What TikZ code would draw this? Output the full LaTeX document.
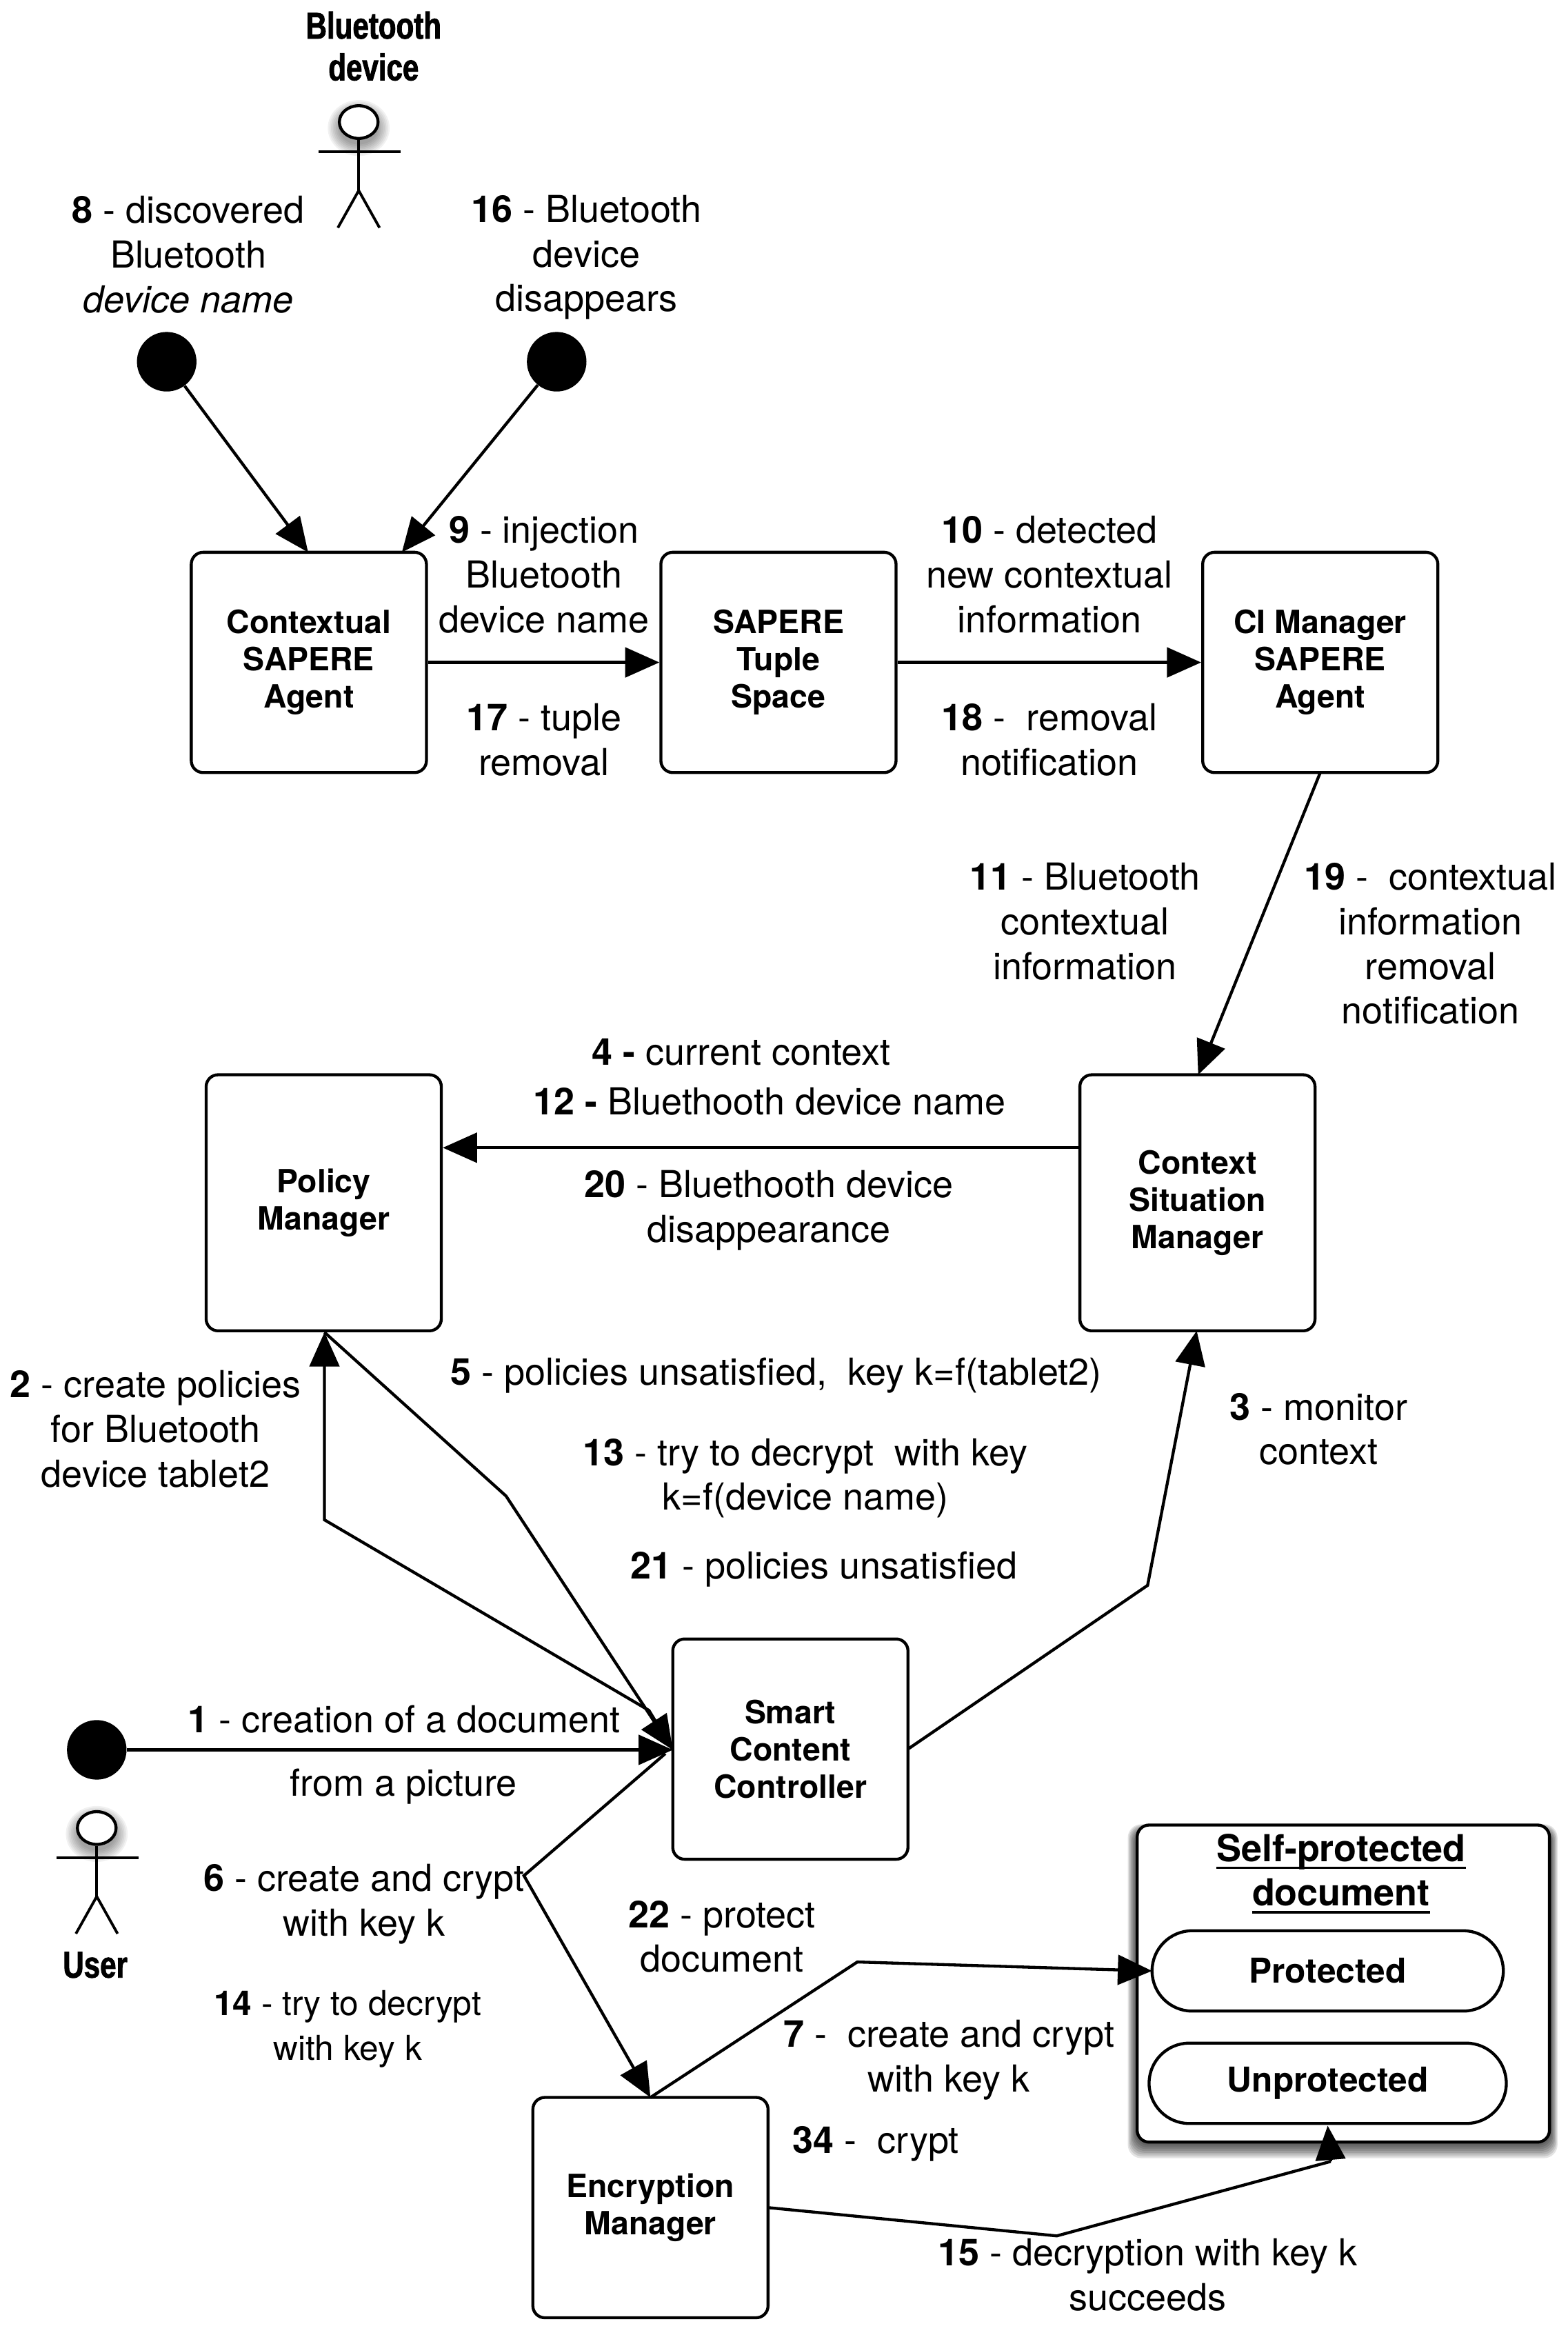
\documentclass[tikz,border=0pt]{standalone}
\usepackage{fontspec}
\setmainfont{TeX Gyre Heros}
\newfontfamily\nbfont[FakeStretch=0.78,BoldFeatures={FakeStretch=0.78,FakeBold=1.6}]{Liberation Sans}
\usetikzlibrary{arrows.meta,shapes.misc,shapes.geometric}
\newcommand{\thickul}[1]{\vtop{\hbox{\smash{#1}}\kern3.5pt\hrule height 1.8pt}}
\tikzset{
 x=1pt,y=-1pt,
 lab/.style={inner sep=0pt,align=center,font=\fontsize{25}{30}\selectfont},
 smalllab/.style={inner sep=0pt,align=center,font=\fontsize{23}{30}\selectfont},
 boxtxt/.style={font=\fontsize{21.5}{25}\bfseries\selectfont,align=center},
 box/.style={draw,line width=2pt,rounded corners=8pt,minimum width=158pt,minimum height=148pt,inner sep=0pt,boxtxt},
 tallbox/.style={box,minimum height=172pt},
 statebox/.style={draw,line width=2pt,rounded rectangle,inner sep=0pt,font=\fontsize{23}{28}\bfseries\selectfont},
 dotn/.style={circle,fill=black,minimum size=40pt,inner sep=0pt},
 conn/.style={line width=2pt,-{Triangle[length=23pt,width=20pt]}},
 plain/.style={line width=2pt},
 limb/.style={line width=1.8pt},
 actortxt/.style={inner sep=0pt,align=center,font=\nbfont\fontsize{25}{28}\bfseries\selectfont},
}
\newcommand{\actorfig}[3]{% name, cx, head cy
 \foreach \i in {1,...,8}{\fill[black,opacity=0.055] (#2,#3+4) ellipse ({12+\i*1.1} and {10+\i*1.1});}
 \node[draw,fill=white,line width=2pt,ellipse,minimum width=26pt,minimum height=22pt,inner sep=0pt] (#1head) at (#2,#3) {};
 \coordinate (#1hip) at (#2,#3+46);
 \coordinate (#1la) at (#2-27,#3+20);
 \coordinate (#1ra) at (#2+28,#3+20);
 \coordinate (#1ll) at (#2-14,#3+71);
 \coordinate (#1rl) at (#2+14,#3+71);
 \draw[limb] (#1head) -- (#1hip);
 \draw[limb] (#1la) -- (#1ra);
 \draw[limb] (#1ll) -- (#1hip) -- (#1rl);
}
\begin{document}
\begin{tikzpicture}
\useasboundingbox (0,0) rectangle (1053,1568.6);
% boxes
\node[box] (ctx) at (207.5,445) {Contextual\\SAPERE\\Agent};
\node[box] (tup) at (523,445) {SAPERE\\Tuple\\Space};
\node[box] (cim) at (887,445) {CI Manager\\SAPERE\\Agent};
\node[tallbox] (pol) at (217.5,808) {Policy\\Manager};
\node[tallbox] (csm) at (804.5,808) {Context\\Situation\\Manager};
\node[box] (scc) at (531,1175) {Smart\\Content\\Controller};
\node[box] (enc) at (437,1483) {Encryption\\Manager};
% self-protected document
\foreach \i in {1,...,9}{\fill[black,opacity=0.11,rounded corners=9pt] (764-\i*0.7,1230-\i*0.5) rectangle (1041+\i*0.6,1439+\i*1.2);}
\node[draw,fill=white,line width=2pt,rounded corners=8pt,minimum width=277pt,minimum height=213pt,inner sep=0pt] (doc) at (902.5,1332.5) {};
\node[inner sep=0pt,align=center,font=\fontsize{25}{30}\bfseries\selectfont] (doct) at (901,1268) {\thickul{Self-protected}\\\thickul{document}};
\node[statebox,minimum width=236pt,minimum height=54pt] (prot) at (892,1324) {Protected};
\node[statebox,minimum width=240pt,minimum height=54pt] (unprot) at (892,1399.5) {Unprotected};
% actors
\actorfig{bt}{241}{82}
\actorfig{us}{65}{1228}
\node[actortxt] (btl) at (251,31) {Bluetooth\\device};
\node[actortxt] (usl) at (64,1320) {User};
% start dots
\node[dotn] (d8) at (112,243) {};
\node[dotn] (d16) at (374,243) {};
\node[dotn] (d1) at (65,1175.5) {};
% connector anchors
\coordinate (ctxA) at (207,371);
\coordinate (ctxB) at (270,371);
\coordinate (csmT) at (805,722);
\coordinate (cimB) at (887,519);
\coordinate (polB) at (218,895);
\coordinate (sccW) at (452,1175.5);
\coordinate (sccS) at (447,1178);
\coordinate (b1) at (218,1021);
\coordinate (b1a) at (436,1149);
\coordinate (b2) at (340,1005);
\coordinate (b3) at (771,1065);
\coordinate (csmB) at (804,894);
\coordinate (sccE) at (610,1175);
\coordinate (b4) at (352,1260);
\coordinate (encT) at (437,1409);
\coordinate (b5) at (576,1318);
\coordinate (protW) at (774,1324);
\coordinate (encE) at (516,1483);
\coordinate (b6) at (710,1502);
\coordinate (b7) at (894,1452);
\coordinate (unpB) at (892,1428);
% connectors
\draw[conn] (d8) -- (ctxA);
\draw[conn] (d16) -- (ctxB);
\draw[conn] (ctx.east) -- (tup.west);
\draw[conn] (tup.east) -- (cim.west);
\draw[conn] (cimB) -- (csmT);
\draw[conn] (csm.west |- 0,771) -- (pol.east |- 0,771);
\draw[conn] (sccE) -- (b3) -- (csmB);
\draw[conn] (sccW) -- (b1a) -- (b1) -- (polB);
\draw[conn] (polB) -- (b2) -- (sccW);
\draw[conn] (d1) -- (sccW);
\draw[conn] (sccS) -- (b4) -- (encT);
\draw[conn] (encT) -- (b5) -- (protW);
\draw[plain,line join=round] (encE) -- (b6) -- (b7);
\draw[conn] (b7) -- (unpB);
% labels
\node[lab] (l8) at (126.5,171) {\textbf{8} - discovered\\Bluetooth\\\textit{device name}};
\node[lab] (l16) at (394,173) {\textbf{16} - Bluetooth\\device\\disappears};
\node[lab] (l9) at (365.5,386) {\textbf{9} - injection\\Bluetooth\\device name};
\node[lab] (l17) at (365.5,497) {\textbf{17} - tuple\\removal};
\node[lab] (l10) at (705,386) {\textbf{10} - detected\\new contextual\\information};
\node[lab] (l18) at (705,497) {\textbf{18} -\ \ removal\\notification};
\node[lab] (l11) at (729,619) {\textbf{11} - Bluetooth\\contextual\\information};
\node[lab] (l19) at (961,634) {\textbf{19} -\ \ contextual\\information\\removal\\notification};
\node[lab] (l4) at (498,707) {\textbf{4 -} current context};
\node[lab] (l12) at (517,740) {\textbf{12 -} Bluethooth device name};
\node[lab] (l20) at (516.5,813) {\textbf{20} - Bluethooth device\\disappearance};
\node[lab] (l2) at (104.5,960) {\textbf{2} - create policies\\for Bluetooth\\device tablet2};
\node[lab] (l5) at (521.5,924) {\textbf{5} - policies unsatisfied,\ \ key k=f(tablet2)};
\node[lab] (l13) at (541,993) {\textbf{13} - try to decrypt\ \ with key\\k=f(device name)};
\node[lab] (l21) at (553.5,1054) {\textbf{21} - policies unsatisfied};
\node[lab] (l3) at (886,960) {\textbf{3} - monitor\\context};
\node[lab] (l1) at (271.5,1155) {\textbf{1} - creation of a document};
\node[lab] (l1b) at (271,1200) {from a picture};
\node[lab] (l6) at (244.5,1279) {\textbf{6} - create and crypt\\with key k};
\node[smalllab] (l14) at (233.5,1363) {\textbf{14} - try to decrypt\\with key k};
\node[lab] (l22) at (485,1301) {\textbf{22} - protect\\document};
\node[lab] (l7) at (637.5,1384) {\textbf{7} -\ \ create and crypt\\with key k};
\node[lab] (l34) at (588.5,1440) {\textbf{34} -\ \ crypt};
\node[lab] (l15) at (771,1528) {\textbf{15} - decryption with key k\\succeeds};
\end{tikzpicture}
\end{document}
